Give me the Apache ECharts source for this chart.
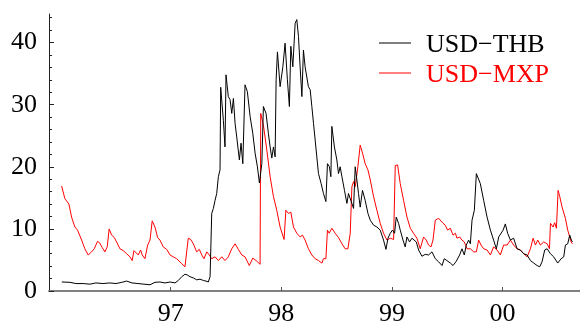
<!DOCTYPE html>
<html>
<head>
<meta charset="utf-8">
<script src="https://cdn.jsdelivr.net/npm/echarts@6/dist/echarts.min.js"></script>
<style>
  html, body { margin: 0; padding: 0; background: #fff; }
  #chart { width: 580px; height: 327px; }
</style>
</head>
<body>
<div id="chart"></div>
<script>
// Annualised volatility (%) of two exchange rates, dates as decimal years
const seriesNames = ['USD\u2212THB', 'USD\u2212MXP'];
const seriesColors = ['#000000', '#ff0000'];

const thbDates = [
  1996.016, 1996.089, 1996.143, 1996.209, 1996.270, 1996.324, 1996.387, 1996.450, 1996.505, 1996.559,
  1996.602, 1996.650, 1996.704, 1996.758, 1996.813, 1996.858, 1996.903, 1996.948, 1996.994, 1997.039,
  1997.069, 1997.100, 1997.129, 1997.148, 1997.175, 1997.205, 1997.235, 1997.265, 1997.295, 1997.319,
  1997.340, 1997.356, 1997.371, 1997.386, 1997.401, 1997.416, 1997.431, 1997.446, 1997.452, 1997.476,
  1997.491, 1997.500, 1997.521, 1997.537, 1997.552, 1997.567, 1997.582, 1997.597, 1997.621, 1997.636,
  1997.652, 1997.672, 1997.693, 1997.718, 1997.742, 1997.763, 1997.784, 1997.802, 1997.824, 1997.838,
  1997.862, 1997.883, 1997.899, 1997.914, 1997.929, 1997.944, 1997.953, 1997.965, 1997.989, 1998.014,
  1998.034, 1998.055, 1998.073, 1998.086, 1998.104, 1998.125, 1998.140, 1998.155, 1998.170, 1998.186,
  1998.200, 1998.215, 1998.230, 1998.245, 1998.261, 1998.276, 1998.291, 1998.306, 1998.321, 1998.336,
  1998.360, 1998.381, 1998.403, 1998.417, 1998.435, 1998.448, 1998.457, 1998.480, 1998.502, 1998.517,
  1998.532, 1998.548, 1998.571, 1998.593, 1998.607, 1998.638, 1998.653, 1998.668, 1998.683, 1998.698,
  1998.713, 1998.734, 1998.758, 1998.783, 1998.804, 1998.834, 1998.864, 1998.894, 1998.924, 1998.946,
  1998.964, 1998.985, 1999.005, 1999.024, 1999.039, 1999.060, 1999.075, 1999.100, 1999.120, 1999.136,
  1999.159, 1999.181, 1999.195, 1999.220, 1999.241, 1999.271, 1999.301, 1999.331, 1999.362, 1999.392,
  1999.422, 1999.453, 1999.473, 1999.497, 1999.528, 1999.552, 1999.582, 1999.612, 1999.633, 1999.654,
  1999.672, 1999.693, 1999.709, 1999.724, 1999.745, 1999.763, 1999.778, 1999.799, 1999.829, 1999.860,
  1999.890, 1999.919, 1999.944, 1999.965, 2000.005, 2000.025, 2000.046, 2000.071, 2000.100, 2000.131,
  2000.161, 2000.191, 2000.222, 2000.252, 2000.282, 2000.312, 2000.336, 2000.357, 2000.381, 2000.403,
  2000.433, 2000.462, 2000.499, 2000.529, 2000.553, 2000.568, 2000.589, 2000.607, 2000.622, 2000.632
];
const thbValues = [
  1.45, 1.4, 1.2, 1.2, 1.1, 1.3, 1.2, 1.3, 1.2, 1.4,
  1.6, 1.3, 1.2, 1.1, 1.0, 1.4, 1.45, 1.3, 1.45, 1.3,
  1.7, 2.3, 2.7, 2.6, 2.3, 2.1, 1.8, 1.9, 1.7, 1.6,
  1.45, 2.3, 12.5, 13.3, 14.6, 15.7, 18.4, 19.5, 32.8, 27.5,
  23.2, 34.8, 31.3, 30.8, 28.6, 31.0, 27.0, 24.8, 21.1, 23.8,
  20.5, 33.2, 32.1, 28.1, 25.4, 22.2, 20.0, 17.4, 20.5, 29.7,
  28.6, 25.4, 23.2, 21.4, 23.2, 21.6, 34.0, 38.5, 32.9, 36.1,
  39.9, 34.0, 29.7, 39.4, 36.1, 43.1, 43.7, 41.0, 36.1, 31.3,
  38.8, 36.1, 36.0, 32.9, 32.4, 29.7, 27.0, 24.3, 21.6, 18.9,
  17.3, 15.7, 14.4, 20.5, 20.0, 18.4, 26.5, 23.2, 21.1, 18.9,
  20.0, 18.4, 16.2, 14.1, 15.7, 14.1, 13.3, 20.0, 17.9, 15.7,
  13.5, 16.2, 14.6, 12.5, 11.4, 10.6, 10.3, 9.8, 8.2, 6.7,
  8.5, 9.3, 9.8, 9.3, 11.9, 10.9, 9.8, 8.2, 7.1, 8.7,
  7.9, 8.5, 8.7, 7.9, 6.6, 5.6, 5.9, 5.8, 6.3, 5.2,
  4.7, 4.1, 5.2, 4.9, 4.5, 4.1, 4.8, 5.8, 6.8, 5.8,
  7.4, 8.2, 7.6, 11.4, 13.0, 18.9, 19.2, 17.3, 14.6, 11.9,
  9.8, 8.2, 6.8, 8.7, 9.8, 10.8, 9.3, 8.2, 8.5, 6.8,
  6.6, 6.0, 5.8, 4.9, 4.5, 4.1, 3.9, 4.7, 6.6, 6.8,
  6.0, 5.5, 4.5, 5.2, 5.5, 7.4, 7.6, 9.0, 8.2, 7.9
];

const mxpDates = [
  1996.014, 1996.043, 1996.059, 1996.071, 1996.080, 1996.104, 1996.134, 1996.158, 1996.195, 1996.224,
  1996.254, 1996.285, 1996.309, 1996.339, 1996.360, 1996.381, 1996.405, 1996.426, 1996.444, 1996.466,
  1996.490, 1996.511, 1996.541, 1996.571, 1996.602, 1996.632, 1996.652, 1996.668, 1996.683, 1996.707,
  1996.728, 1996.743, 1996.767, 1996.792, 1996.813, 1996.833, 1996.858, 1996.882, 1996.903, 1996.933,
  1996.964, 1996.994, 1997.024, 1997.054, 1997.100, 1997.129, 1997.145, 1997.159, 1997.181, 1997.205,
  1997.235, 1997.259, 1997.281, 1997.301, 1997.326, 1997.349, 1997.371, 1997.401, 1997.431, 1997.462,
  1997.491, 1997.521, 1997.552, 1997.582, 1997.612, 1997.643, 1997.672, 1997.711, 1997.742, 1997.772,
  1997.808, 1997.814, 1997.838, 1997.869, 1997.899, 1997.929, 1997.959, 1997.989, 1998.025, 1998.041,
  1998.064, 1998.086, 1998.110, 1998.140, 1998.170, 1998.191, 1998.215, 1998.245, 1998.276, 1998.306,
  1998.336, 1998.367, 1998.381, 1998.403, 1998.417, 1998.433, 1998.457, 1998.487, 1998.517, 1998.548,
  1998.577, 1998.602, 1998.623, 1998.638, 1998.653, 1998.668, 1998.692, 1998.713, 1998.734, 1998.758,
  1998.783, 1998.804, 1998.834, 1998.864, 1998.894, 1998.924, 1998.955, 1998.985, 1999.015, 1999.030,
  1999.051, 1999.075, 1999.105, 1999.136, 1999.166, 1999.195, 1999.226, 1999.256, 1999.286, 1999.310,
  1999.331, 1999.353, 1999.371, 1999.392, 1999.422, 1999.437, 1999.462, 1999.482, 1999.503, 1999.528,
  1999.552, 1999.573, 1999.588, 1999.612, 1999.633, 1999.654, 1999.679, 1999.709, 1999.739, 1999.763,
  1999.784, 1999.805, 1999.829, 1999.860, 1999.890, 1999.919, 1999.950, 1999.980, 2000.010, 2000.041,
  2000.071, 2000.100, 2000.131, 2000.161, 2000.191, 2000.222, 2000.252, 2000.276, 2000.297, 2000.318,
  2000.342, 2000.372, 2000.403, 2000.424, 2000.433, 2000.457, 2000.471, 2000.487, 2000.502, 2000.517,
  2000.538, 2000.568, 2000.589, 2000.607, 2000.620, 2000.632
];
const mxpValues = [
  16.9, 14.9, 14.5, 14.7, 14.0, 11.9, 10.3, 9.8, 8.2, 6.8,
  5.8, 6.3, 6.8, 8.0, 7.7, 7.0, 6.3, 7.1, 10.0, 9.0,
  8.6, 7.9, 6.8, 6.5, 6.0, 5.5, 4.9, 6.5, 6.6, 5.8,
  6.6, 5.8, 5.2, 7.4, 8.2, 11.3, 10.3, 8.6, 8.2, 7.1,
  6.7, 5.8, 5.5, 5.2, 4.4, 3.9, 3.9, 8.5, 8.3, 7.6,
  6.3, 6.7, 5.8, 5.2, 6.3, 5.8, 5.2, 5.5, 4.9, 5.5,
  4.9, 5.5, 6.8, 7.6, 6.7, 5.8, 5.5, 4.1, 5.3, 4.9,
  4.3, 28.6, 26.7, 22.7, 18.4, 15.2, 13.0, 10.3, 8.3, 13.0,
  12.5, 12.7, 10.3, 9.3, 8.7, 9.0, 8.2, 6.8, 5.8, 5.2,
  4.9, 4.5, 5.2, 5.2, 9.8, 9.3, 10.1, 9.3, 8.6, 7.6,
  6.8, 6.8, 9.3, 16.8, 17.6, 16.8, 20.0, 23.5, 22.2, 20.5,
  19.5, 17.9, 15.2, 13.0, 10.9, 9.3, 8.2, 8.5, 8.3, 20.2,
  20.3, 17.3, 14.6, 11.9, 10.1, 9.3, 8.5, 6.8, 8.7, 8.2,
  7.4, 7.1, 8.2, 11.4, 11.7, 11.9, 10.9, 10.6, 9.8, 10.1,
  9.0, 9.3, 8.5, 8.7, 8.2, 7.9, 6.8, 6.8, 6.3, 6.3,
  8.2, 7.4, 6.8, 6.6, 5.8, 7.1, 6.6, 5.8, 7.4, 7.4,
  8.2, 7.4, 6.8, 6.6, 6.0, 5.5, 6.8, 8.5, 7.4, 8.2,
  7.4, 7.9, 7.6, 6.8, 10.9, 10.3, 11.0, 10.1, 16.2, 15.2,
  13.5, 11.7, 9.8, 8.7, 7.9, 7.6
];

const yLabelTicks = [0, 10, 20, 30, 40];
const yMinorTicks = [2, 4, 6, 8, 12, 14, 16, 18, 22, 24, 26, 28, 32, 34, 36, 38, 42, 44];
const xYearTicks = [1997, 1998, 1999, 2000];

const serif = '"Liberation Serif", "DejaVu Serif", serif';

function pairs(xs, ys) {
  return xs.map((x, i) => [x, ys[i]]);
}

// Key in the upper right: a short line sample followed by the series name
function keyEntry(i) {
  const y = 43 + i * 30;
  return [
    {
      type: 'line',
      shape: { x1: 379, y1: y, x2: 411, y2: y },
      style: { stroke: seriesColors[i], lineWidth: 1 },
      silent: true
    },
    {
      type: 'text',
      x: 426,
      y: y + 2,
      style: {
        text: seriesNames[i],
        fill: seriesColors[i],
        font: '26px ' + serif,
        textVerticalAlign: 'middle',
        textAlign: 'left'
      },
      silent: true
    }
  ];
}

const chart = echarts.init(document.getElementById('chart'), null, { renderer: 'canvas' });

chart.setOption({
  animation: false,
  backgroundColor: '#ffffff',
  grid: { left: 49, right: 0, top: 14, bottom: 36, containLabel: false },
  graphic: [].concat(keyEntry(0), keyEntry(1)),
  xAxis: {
    type: 'value',
    min: 1995.9,
    max: 2000.7,
    splitLine: { show: false },
    axisLine: { show: true, onZero: false, lineStyle: { color: '#808080', width: 2 } },
    axisTick: {
      show: true, inside: true, length: 4,
      customValues: xYearTicks,
      lineStyle: { color: '#555555', width: 1 }
    },
    axisLabel: {
      customValues: xYearTicks,
      margin: 10,
      fontFamily: serif,
      fontSize: 26,
      color: '#000000',
      formatter: v => String(Math.round(v)).slice(2)
    }
  },
  yAxis: [
    {
      type: 'value',
      min: 0,
      max: 44.6,
      position: 'left',
      splitLine: { show: false },
      axisLine: { show: true, onZero: false, lineStyle: { color: '#222222', width: 1 } },
      axisTick: {
        show: true, inside: true, length: 5,
        customValues: yLabelTicks,
        lineStyle: { color: '#222222', width: 1 }
      },
      axisLabel: {
        customValues: yLabelTicks,
        margin: 12,
        fontFamily: serif,
        fontSize: 26,
        color: '#000000'
      }
    },
    {
      type: 'value',
      min: 0,
      max: 44.6,
      position: 'left',
      offset: 0,
      splitLine: { show: false },
      axisLine: { show: false },
      axisTick: {
        show: true, inside: true, length: 3,
        customValues: yMinorTicks,
        lineStyle: { color: '#222222', width: 1 }
      },
      axisLabel: { show: false }
    }
  ],
  series: [
    {
      name: seriesNames[0],
      type: 'line',
      yAxisIndex: 0,
      symbol: 'none',
      lineStyle: { color: seriesColors[0], width: 1 },
      itemStyle: { color: seriesColors[0] },
      data: pairs(thbDates, thbValues),
      z: 3
    },
    {
      name: seriesNames[1],
      type: 'line',
      yAxisIndex: 0,
      symbol: 'none',
      lineStyle: { color: seriesColors[1], width: 1 },
      itemStyle: { color: seriesColors[1] },
      data: pairs(mxpDates, mxpValues),
      z: 2
    }
  ]
});
</script>
</body>
</html>
